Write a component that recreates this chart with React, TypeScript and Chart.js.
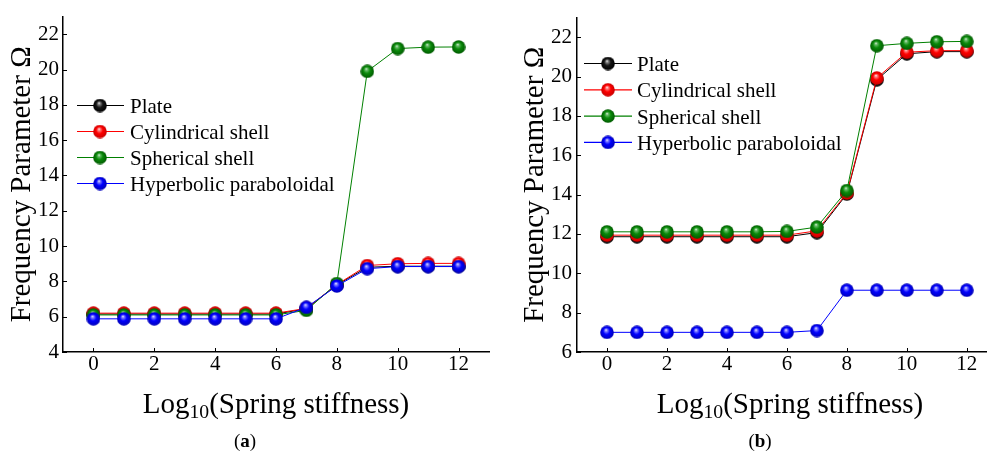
import React, { useEffect, useRef } from 'react';
import { Chart, registerables } from 'chart.js';

Chart.register(...registerables);

// ---------------- data ----------------
const xValues = [0, 1, 2, 3, 4, 5, 6, 7, 8, 9, 10, 11, 12];
const xTickValues = [0, 2, 4, 6, 8, 10, 12];
const yTickValuesA = [4, 6, 8, 10, 12, 14, 16, 18, 20, 22];
const yTickValuesB = [6, 8, 10, 12, 14, 16, 18, 20, 22];
const seriesNames = ['Plate', 'Cylindrical shell', 'Spherical shell', 'Hyperbolic paraboloidal'];

// panel (a)
const plateA = [6.15, 6.15, 6.15, 6.15, 6.15, 6.15, 6.15, 6.45, 7.8, 8.8, 8.86, 8.86, 8.86];
const cylA = [6.2, 6.2, 6.2, 6.2, 6.2, 6.2, 6.2, 6.47, 7.82, 8.9, 9.0, 9.02, 9.02];
const sphA = [6.1, 6.1, 6.1, 6.1, 6.1, 6.1, 6.1, 6.36, 7.88, 19.9, 21.19, 21.27, 21.28];
const hypA = [5.88, 5.88, 5.88, 5.88, 5.88, 5.88, 5.88, 6.53, 7.74, 8.72, 8.84, 8.84, 8.84];

// panel (b)
const plateB = [11.86, 11.86, 11.86, 11.86, 11.86, 11.86, 11.86, 12.07, 14.03, 19.84, 21.16, 21.27, 21.27];
const cylB = [11.94, 11.94, 11.94, 11.94, 11.94, 11.94, 11.94, 12.16, 14.08, 19.93, 21.24, 21.32, 21.32];
const sphB = [12.11, 12.11, 12.11, 12.11, 12.11, 12.11, 12.13, 12.35, 14.21, 21.57, 21.69, 21.77, 21.79];
const hypB = [7.0, 7.0, 7.0, 7.0, 7.0, 7.0, 7.0, 7.09, 9.14, 9.14, 9.14, 9.14, 9.14];

const yTitle = 'Frequency Parameter Ω';
const xTitleMain = 'Log';
const xTitleSub = '10';
const xTitleRest = '(Spring stiffness)';
const panelLabels = ['a', 'b'];

// ---------------- styling ----------------
const SERIF = "'Liberation Serif', 'Times New Roman', serif";
const lineColors = ['#000000', '#ff0000', '#008000', '#0000ff'];
const sphereStops = [
  ['#ffffff', '#8a8a8a', '#151515', '#000000'],
  ['#ffffff', '#ff8a8a', '#ff0000', '#c80000'],
  ['#ffffff', '#6fc06f', '#0a8a0a', '#005a00'],
  ['#ffffff', '#8a8aff', '#0000ff', '#0000b8'],
];

function makeSphere(stops: string[], d = 14): HTMLCanvasElement {
  const c = document.createElement('canvas');
  c.width = d;
  c.height = d;
  const g = c.getContext('2d')!;
  const cx = d / 2;
  const cy = d / 2;
  const r = d / 2 - 0.2;
  const grad = g.createRadialGradient(cx - r * 0.15, cy - r * 0.38, 0, cx, cy, r);
  grad.addColorStop(0, stops[0]);
  grad.addColorStop(0.16, stops[1]);
  grad.addColorStop(0.5, stops[2]);
  grad.addColorStop(1, stops[3]);
  g.fillStyle = grad;
  g.beginPath();
  g.arc(cx, cy, r, 0, Math.PI * 2);
  g.fill();
  return c;
}

const decorPlugin = {
  id: 'decor',
  afterDraw(chart: any, _args: any, opts: any) {
    const ctx = chart.ctx as CanvasRenderingContext2D;
    const xs = chart.scales.x;
    const ys = chart.scales.y;
    ctx.save();
    ctx.strokeStyle = '#000';
    ctx.lineWidth = 1;
    // inward tick marks
    for (const t of xs.ticks) {
      const px = Math.round(xs.getPixelForValue(t.value)) + 0.5;
      ctx.beginPath();
      ctx.moveTo(px, ys.bottom);
      ctx.lineTo(px, ys.bottom - 4);
      ctx.stroke();
    }
    for (const t of ys.ticks) {
      const py = Math.round(ys.getPixelForValue(t.value)) + 0.5;
      ctx.beginPath();
      ctx.moveTo(xs.left, py);
      ctx.lineTo(xs.left + 4, py);
      ctx.stroke();
    }
    // legend
    const lg = opts.legend;
    chart.data.datasets.forEach((ds: any, i: number) => {
      const y = lg.y + i * lg.dy;
      ctx.strokeStyle = ds.borderColor;
      ctx.lineWidth = 1.2;
      ctx.beginPath();
      ctx.moveTo(lg.x1, y);
      ctx.lineTo(lg.x2, y);
      ctx.stroke();
      const img = ds.pointStyle as HTMLCanvasElement;
      ctx.drawImage(img, lg.mx - img.width / 2, y - img.height / 2);
      ctx.fillStyle = '#000';
      ctx.font = `21px ${SERIF}`;
      ctx.textBaseline = 'alphabetic';
      ctx.textAlign = 'left';
      ctx.fillText(ds.label, lg.tx, y + 7.5);
    });
    ctx.restore();
  },
};

type PanelProps = {
  left: number;
  series: number[][];
  yMin: number;
  yTicks: number[];
  xMax: number;
  axisWidth: number;
  padRight: number;
  titlePad: number;
  tickPad: number;
  legend: { x1: number; x2: number; mx: number; tx: number; y: number; dy: number };
};

function Panel(p: PanelProps) {
  const ref = useRef<HTMLCanvasElement>(null);
  useEffect(() => {
    const spheres = sphereStops.map((s) => makeSphere(s));
    const chart = new Chart(ref.current!, {
      type: 'line',
      data: {
        datasets: p.series.map((vals, i) => ({
          label: seriesNames[i],
          data: xValues.map((x, k) => ({ x, y: vals[k] })),
          borderColor: lineColors[i],
          backgroundColor: lineColors[i],
          borderWidth: 1,
          tension: 0,
          pointStyle: spheres[i],
          pointRadius: 7,
          order: 3 - i,
        })),
      },
      options: {
        animation: false,
        responsive: false,
        maintainAspectRatio: false,
        layout: { padding: { top: 7, right: p.padRight, left: 0, bottom: 0 } },
        plugins: {
          legend: { display: false },
          tooltip: { enabled: false },
          decor: { legend: p.legend },
        } as any,
        scales: {
          x: {
            type: 'linear',
            min: -1,
            max: p.xMax,
            afterBuildTicks: (s: any) => {
              s.ticks = xTickValues.map((v) => ({ value: v }));
            },
            afterFit: (s: any) => {
              s.height = 104;
            },
            ticks: {
              padding: 0,
              maxRotation: 0,
              autoSkip: false,
              color: '#000',
              font: { family: SERIF, size: 21 },
            },
            grid: { drawOnChartArea: false, drawTicks: false },
            border: { color: '#000', width: 1.5 },
          },
          y: {
            type: 'linear',
            min: p.yMin,
            max: 23,
            afterBuildTicks: (s: any) => {
              s.ticks = p.yTicks.map((v) => ({ value: v }));
            },
            afterFit: (s: any) => {
              s.width = p.axisWidth;
            },
            ticks: {
              padding: p.tickPad,
              autoSkip: false,
              color: '#000',
              font: { family: SERIF, size: 21 },
            },
            grid: { drawOnChartArea: false, drawTicks: false },
            border: { color: '#000', width: 1.5 },
            title: {
              display: true,
              text: yTitle,
              color: '#000',
              font: { family: SERIF, size: 29 },
              padding: { top: p.titlePad, bottom: 0 },
            },
          },
        },
      } as any,
      plugins: [decorPlugin],
    });
    return () => chart.destroy();
  }, []);
  return (
    <canvas
      ref={ref}
      width={497}
      height={456}
      style={{ position: 'absolute', left: p.left, top: 0, width: 497, height: 456, display: 'block' }}
    />
  );
}

function XTitle({ center }: { center: number }) {
  return (
    <div
      style={{
        position: 'absolute',
        left: center - 200,
        width: 400,
        top: 389,
        textAlign: 'center',
        fontFamily: SERIF,
        fontSize: 29,
        lineHeight: '29px',
        color: '#000',
        whiteSpace: 'nowrap',
      }}
    >
      {xTitleMain}
      <span style={{ fontSize: '0.68em', verticalAlign: '-0.25em', lineHeight: 0 }}>{xTitleSub}</span>
      {xTitleRest}
    </div>
  );
}

function PanelLabel({ center, text }: { center: number; text: string }) {
  return (
    <div
      style={{
        position: 'absolute',
        left: center - 40,
        width: 80,
        top: 430,
        textAlign: 'center',
        fontFamily: SERIF,
        fontSize: 19,
        lineHeight: '22px',
        color: '#000',
      }}
    >
      (<b>{text}</b>)
    </div>
  );
}

export default function App() {
  return (
    <div style={{ position: 'fixed', left: 0, top: 0, width: 994, height: 456, background: '#fff', overflow: 'hidden' }}>
      <Panel
        left={0}
        series={[plateA, cylA, sphA, hypA]}
        yMin={4}
        yTicks={yTickValuesA}
        xMax={13}
        axisWidth={63}
        padRight={7}
        titlePad={5}
        tickPad={4}
        legend={{ x1: 77, x2: 124, mx: 100, tx: 130, y: 105.5, dy: 26 }}
      />
      <Panel
        left={497}
        series={[plateB, cylB, sphB, hypB]}
        yMin={6}
        yTicks={yTickValuesB}
        xMax={12.64}
        axisWidth={80}
        padRight={0}
        titlePad={21}
        tickPad={5}
        legend={{ x1: 87, x2: 135, mx: 111, tx: 140, y: 63.5, dy: 26.3 }}
      />
      <XTitle center={276} />
      <XTitle center={790} />
      <PanelLabel center={245} text={panelLabels[0]} />
      <PanelLabel center={760} text={panelLabels[1]} />
    </div>
  );
}
